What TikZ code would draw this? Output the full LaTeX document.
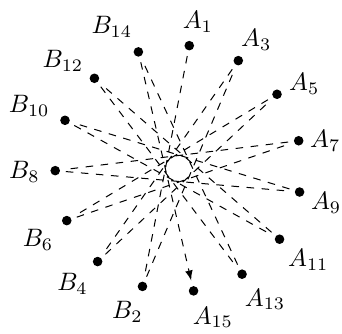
\documentclass[tikz,border=0pt]{standalone}
\usepackage{amsmath,amssymb}
\usepackage{tikz}
\usetikzlibrary{calc}

\begin{document}
\begin{tikzpicture}[
    dot/.style={circle, fill, inner sep=0pt, minimum size=3.8pt, outer sep=2.3pt},
    chord/.style={dashed, -latex}
]
    \useasboundingbox (-2.49,-2.30) rectangle (2.28,2.35);

    % 15 points on the circle, 24 degrees apart
    \foreach \name [count=\i from 0] in {A1,A3,A5,A7,A9,A11,A13,A15,B2,B4,B6,B8,B10,B12,B14}
        \node[dot] (\name) at ({85-24*\i}:1.72) {};

    % labels
    \foreach \name/\txt/\dx/\dy in {A1/A_1/0.12/0.335, A3/A_3/0.25/0.29, A5/A_5/0.38/0.145,
        A7/A_7/0.37/0.0, A9/A_9/0.37/-0.15, A11/A_{11}/0.40/-0.29, A13/A_{13}/0.32/-0.35,
        A15/A_{15}/0.27/-0.37, B2/B_2/-0.21/-0.36, B4/B_4/-0.35/-0.31, B6/B_6/-0.40/-0.27,
        B8/B_8/-0.43/-0.02, B10/B_{10}/-0.50/0.20, B12/B_{12}/-0.44/0.24, B14/B_{14}/-0.37/0.35}
        \node (lab\name) at ($(\name)+(\dx,\dy)$) {$\txt$};

    \draw[chord] (A1) -- (B2) -- (A3) -- (B4) -- (A5) -- (B6) -- (A7) -- (B8)
        -- (A9) -- (B10) -- (A11) -- (B12) -- (A13) -- (B14) -- (A15);
\end{tikzpicture}
\end{document}
